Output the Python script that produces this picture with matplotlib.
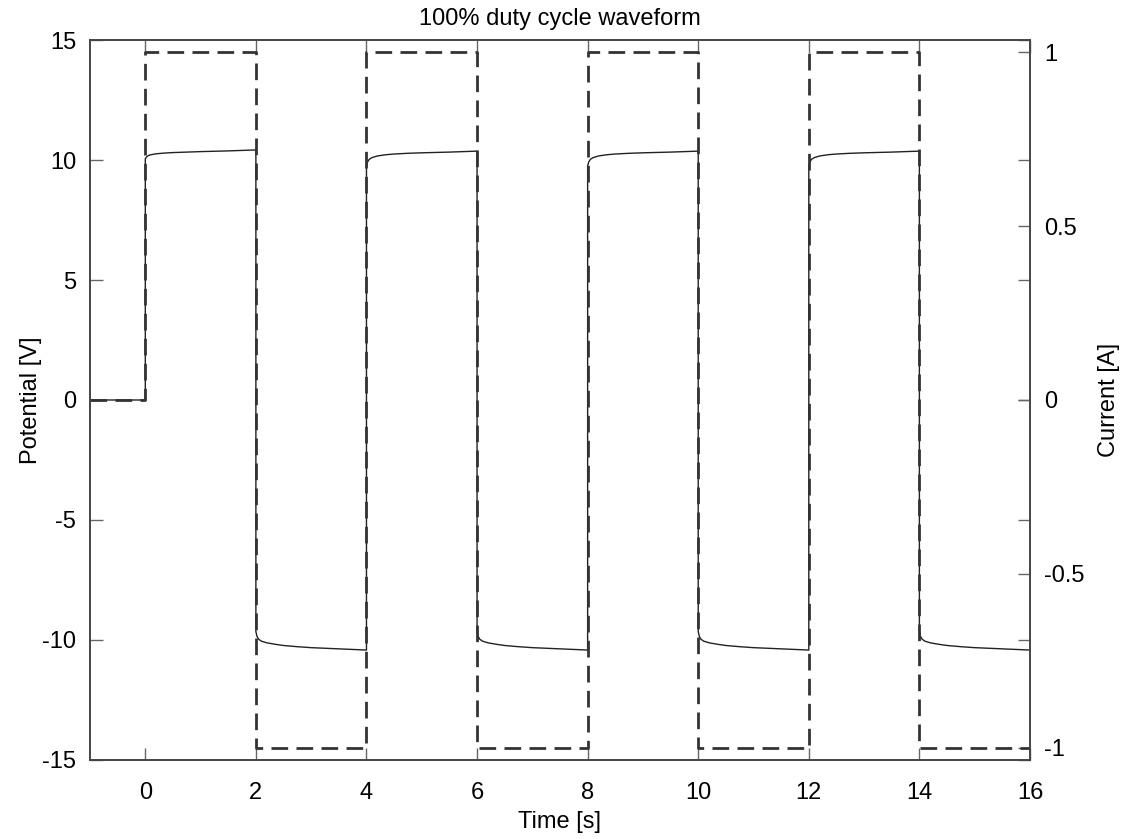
import matplotlib.pyplot as plt
import numpy as np

plt.rcParams["font.family"] = ["Liberation Sans", "DejaVu Sans"]

# current switching times and levels (square wave, 100% duty cycle)
switch_t = [-1, 0, 2, 4, 6, 8, 10, 12, 14, 16]
current = [0, 1, -1, 1, -1, 1, -1, 1, -1, -1]

# potential response in each half-cycle
pulse_start = [0, 2, 4, 6, 8, 10, 12, 14]
offs = [0.0, 0.02, 0.05, 0.1, 0.2, 0.35, 0.5, 0.75, 1.0, 1.5, 2.0]
v_pos_first = [10.05, 10.12, 10.18, 10.22, 10.26, 10.29, 10.31, 10.33, 10.35, 10.38, 10.42]
v_pos = [9.75, 9.92, 10.03, 10.1, 10.17, 10.22, 10.25, 10.28, 10.3, 10.33, 10.37]
v_neg = [-9.65, -9.85, -9.97, -10.05, -10.12, -10.18, -10.23, -10.28, -10.32, -10.37, -10.42]

x_ticks = [0, 2, 4, 6, 8, 10, 12, 14, 16]
y_ticks = [-15, -10, -5, 0, 5, 10, 15]
y2_ticks = [-1, -0.5, 0, 0.5, 1]


def build_potential():
    t = [-1.0, 0.0]
    v = [0.0, 0.0]
    for i, t0 in enumerate(pulse_start):
        if i == 0:
            seg = v_pos_first
        elif i % 2 == 0:
            seg = v_pos
        else:
            seg = v_neg
        for o, val in zip(offs, seg):
            t.append(t0 + o)
            v.append(val)
    return np.array(t), np.array(v)


def main() -> None:
    fig = plt.figure(figsize=(11.21, 8.39), dpi=100)
    ax = fig.add_axes([0.0803, 0.0942, 0.8385, 0.8581])
    ax2 = ax.twinx()

    t_pot, v_pot = build_potential()
    ax.plot(t_pot, v_pot, color="#222222", linewidth=1.0)

    ax2.step(switch_t, current, where="post", color="#333333",
             linewidth=2.0, linestyle=(0, (6, 3)))

    ax.set_xlim(-1, 16)
    ax.set_ylim(-15, 15)
    ax2.set_ylim(-1.035, 1.035)

    ax.set_xticks(x_ticks)
    ax.set_yticks(y_ticks)
    ax.set_yticklabels([str(v) for v in y_ticks])
    ax2.set_yticks(y2_ticks)
    ax2.set_yticklabels(["-1", "-0.5", "0", "0.5", "1"])

    ax.tick_params(direction="in", length=9, width=1, color="#666666",
                   top=True, right=True, labelsize=17, pad=10)
    ax.tick_params(axis="x", pad=16)
    ax2.tick_params(direction="in", length=9, width=1, color="#666666",
                    labelsize=17, pad=10)

    for a in (ax, ax2):
        for sp in a.spines.values():
            sp.set_color("#444444")
            sp.set_linewidth(1.2)

    ax.set_xlabel("Time [s]", fontsize=17, labelpad=5)
    ax.set_ylabel("Potential [V]", fontsize=17, labelpad=0)
    ax2.set_ylabel("Current [A]", fontsize=17, labelpad=10)
    ax.set_title("100% duty cycle waveform", fontsize=17, pad=11)

    fig.savefig("out.png", dpi=100)
    plt.close(fig)


if __name__ == "__main__":
    main()
